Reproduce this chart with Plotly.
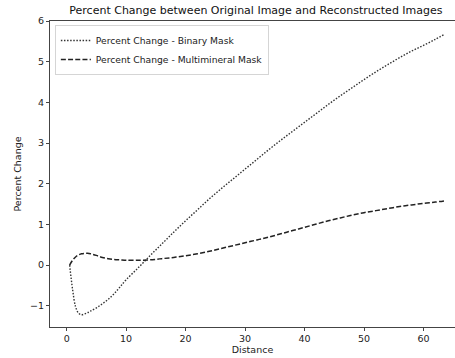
import plotly.graph_objects as go

distance = [0.5, 1.0, 1.5, 2.0, 2.5, 3, 3.5, 4, 5, 6, 7, 8, 9, 10, 12, 14, 16, 18, 20, 22, 24,
            26, 28, 30, 32, 34, 36, 38, 40, 42, 44, 46, 48, 50, 52, 54, 56, 58, 60, 62, 63.5]

binary_change = [0.0, -0.6, -1.02, -1.18, -1.22, -1.2, -1.17, -1.13, -1.05, -0.95, -0.84, -0.70,
                 -0.53, -0.36, -0.07, 0.23, 0.52, 0.81, 1.09, 1.36, 1.63, 1.88, 2.12, 2.36, 2.60,
                 2.84, 3.07, 3.29, 3.51, 3.73, 3.95, 4.16, 4.36, 4.56, 4.75, 4.93, 5.10, 5.26,
                 5.40, 5.55, 5.67]

multimineral_change = [0.0, 0.12, 0.2, 0.25, 0.28, 0.29, 0.29, 0.28, 0.24, 0.19, 0.16, 0.14,
                       0.13, 0.12, 0.12, 0.13, 0.16, 0.19, 0.23, 0.28, 0.34, 0.41, 0.48, 0.55,
                       0.62, 0.69, 0.77, 0.85, 0.93, 1.01, 1.09, 1.16, 1.23, 1.29, 1.34, 1.39,
                       1.44, 1.48, 1.52, 1.55, 1.58]

x_ticks = [0, 10, 20, 30, 40, 50, 60]
y_ticks = [-1, 0, 1, 2, 3, 4, 5, 6]

font = "DejaVu Sans"

fig = go.Figure()
fig.add_trace(go.Scatter(x=distance, y=binary_change, mode="lines",
                         name="Percent Change - Binary Mask",
                         line=dict(color="#333333", width=1.4, dash="1.5px,1.6px", shape="spline")))
fig.add_trace(go.Scatter(x=distance, y=multimineral_change, mode="lines",
                         name="Percent Change - Multimineral Mask",
                         line=dict(color="#222222", width=1.5, dash="5px,2.2px", shape="spline")))

fig.update_layout(
    width=455, height=358,
    margin=dict(l=50, r=0, t=21, b=31),
    paper_bgcolor="white", plot_bgcolor="white",
    font=dict(family=font, size=10, color="#222222"),
    title=dict(text="Percent Change between Original Image and Reconstructed Images",
               x=0.5625, xanchor="center", y=0.972, yanchor="middle",
               font=dict(family=font, size=11, color="#111111")),
    showlegend=True,
    legend=dict(x=0.012, y=0.987, xanchor="left", yanchor="top",
                bgcolor="rgba(255,255,255,0.8)", bordercolor="#d5d5d5", borderwidth=1,
                font=dict(family=font, size=9.2, color="#222222"),
                itemwidth=30, tracegroupgap=0),
    xaxis=dict(range=[-2.8, 65.3], tickvals=x_ticks, ticks="outside", ticklen=3,
               tickcolor="#444444", showgrid=False, zeroline=False,
               showline=True, linecolor="#444444", linewidth=1, mirror=True,
               tickfont=dict(size=9.5),
               title=dict(text="Distance", standoff=2, font=dict(size=9.5))),
    yaxis=dict(range=[-1.52, 6.0], tickvals=y_ticks,
               ticktext=["\u22121", "0", "1", "2", "3", "4", "5", "6"],
               ticks="outside", ticklen=3, tickfont=dict(size=9.5),
               tickcolor="#444444", showgrid=False, zeroline=False,
               showline=True, linecolor="#444444", linewidth=1,
               title=dict(text="Percent Change", standoff=6, font=dict(size=9.5))),
)

fig.write_html("out.html")
